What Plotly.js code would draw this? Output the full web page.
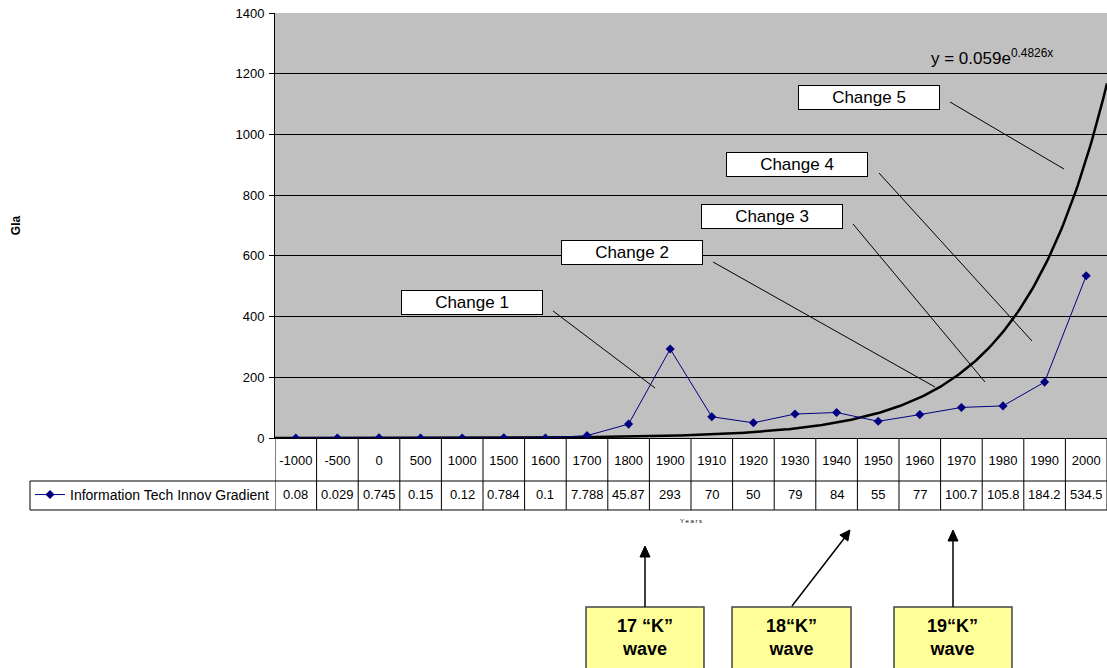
<!DOCTYPE html>
<html>
<head>
<meta charset="utf-8">
<script src="https://cdn.plot.ly/plotly-3.0.1.min.js"></script>
<style>html,body{margin:0;padding:0;background:#fff;}#chart{width:1107px;height:668px;}</style>
</head>
<body>
<div id="chart"></div>
<script>
// ---- data ----
const years = ["-1000","-500","0","500","1000","1500","1600","1700","1800","1900","1910","1920","1930","1940","1950","1960","1970","1980","1990","2000"];
const gradient = [0.08,0.029,0.745,0.15,0.12,0.784,0.1,7.788,45.87,293,70,50,79,84,55,77,100.7,105.8,184.2,534.5];
const seriesName = "Information Tech Innov Gradient";
// trendline shown on the chart: y = 0.059 e^(0.4826x)
const trendA = 0.059;
const trendB = 0.4826;
const changeLabels = ["Change 1","Change 2","Change 3","Change 4","Change 5"];
const waveLabels = ["17 \u201cK\u201d<br>wave","18\u201cK\u201d<br>wave","19\u201cK\u201d<br>wave"];

const FONT = "Liberation Sans, Arial, sans-serif";
const xIdx = years.map((_, i) => i + 1);

const trendX = [], trendY = [];
for (let x = 0.5; x <= 20.5001; x += 0.05) { trendX.push(x); trendY.push(trendA * Math.exp(trendB * x)); }

// table geometry (paper coords)
const yHdrBot = -0.1012, yTblBot = -0.1694, yVal = -0.134;
const legLeft = (30 - 275) / 832;

const shapes = [];
// vertical column lines of data table
for (let k = 0; k <= years.length; k++) {
  shapes.push({type:'line', xref:'x', yref:'paper', x0:k+0.5, x1:k+0.5, y0:yTblBot, y1:0, line:{color:'#000', width:1}});
}
shapes.push({type:'line', xref:'paper', yref:'paper', x0:legLeft, x1:1, y0:yHdrBot, y1:yHdrBot, line:{color:'#000', width:1}});
shapes.push({type:'line', xref:'paper', yref:'paper', x0:legLeft, x1:1, y0:yTblBot, y1:yTblBot, line:{color:'#000', width:1}});
shapes.push({type:'line', xref:'paper', yref:'paper', x0:legLeft, x1:legLeft, y0:yTblBot, y1:yHdrBot, line:{color:'#000', width:1}});

// leader lines for change boxes (data coords)
const leaders = [[7.183,418.5,9.635,164.7],[11.03,579.8,16.366,167.9],[14.394,705.0,17.567,184.5],[15.02,872.9,18.697,319.5],[16.726,1106.8,19.466,886.1]];
leaders.forEach(l => shapes.push({type:'line', xref:'x', yref:'y', x0:l[0], y0:l[1], x1:l[2], y1:l[3], line:{color:'#000', width:1}}));

// yellow wave boxes
const waveBoxes = [[0.3738,0.5156],[0.5493,0.6923],[0.7440,0.8858]];
waveBoxes.forEach(b => shapes.push({type:'rect', xref:'paper', yref:'paper', x0:b[0], x1:b[1], y0:-0.60, y1:-0.3976, fillcolor:'#ffff99', line:{color:'#444', width:1.5}}));

// arrows from wave boxes (shaft + head)
const arrowShafts = [[0.44471,-0.39765,0.44471,-0.2706],[0.62139,-0.39529,0.68630,-0.23059],[0.81490,-0.39765,0.81490,-0.23294]];
arrowShafts.forEach(a => shapes.push({type:'line', xref:'paper', yref:'paper', x0:a[0], y0:a[1], x1:a[2], y1:a[3], line:{color:'#000', width:1.5}}));
const arrowHeads = [
  [[0.44471,-0.25412],[0.43870,-0.28000],[0.45072,-0.28000]],
  [[0.69111,-0.21647],[0.68858,-0.24235],[0.67897,-0.22824]],
  [[0.81490,-0.21647],[0.80889,-0.24235],[0.82091,-0.24235]]
];
arrowHeads.forEach(h => shapes.push({type:'path', xref:'paper', yref:'paper',
  path:'M '+h[0][0]+' '+h[0][1]+' L '+h[1][0]+' '+h[1][1]+' L '+h[2][0]+' '+h[2][1]+' Z', fillcolor:'#000', line:{color:'#000', width:1}}));

const annotations = [];
gradient.forEach((v, i) => annotations.push({xref:'x', yref:'paper', x:i+1, y:yVal, yanchor:'middle', text:String(v), showarrow:false, font:{family:FONT, size:13, color:'#000'}}));

const changePos = [[5.236,446.4],[9.082,612.7],[12.447,731.3],[13.048,900.9],[14.767,1121.6]];
changeLabels.forEach((t, i) => annotations.push({xref:'x', yref:'y', x:changePos[i][0], y:changePos[i][1], text:t, showarrow:false,
  bgcolor:'#fff', bordercolor:'#000', borderwidth:1, borderpad:1, width:138, height:21, font:{family:FONT, size:17, color:'#000'}}));

annotations.push({xref:'x', yref:'y', x:16.22, y:1255, xanchor:'left', yanchor:'middle', text:'y = 0.059e<sup>0.4826x</sup>', showarrow:false, font:{family:FONT, size:17, color:'#000'}});

const waveCenters = [0.4447, 0.6208, 0.8149];
waveLabels.forEach((t, i) => annotations.push({xref:'paper', yref:'paper', x:waveCenters[i], y:-0.470, xanchor:'center', yanchor:'middle', text:'<b>'+t+'</b>', showarrow:false, font:{family:FONT, size:18, color:'#000'}}));

const traces = [
  {x: trendX, y: trendY, type:'scatter', mode:'lines', line:{color:'#000', width:2.5}, showlegend:false, hoverinfo:'skip'},
  {x: xIdx, y: gradient, type:'scatter', mode:'lines+markers', name: seriesName,
   line:{color:'#000080', width:1}, marker:{symbol:'diamond', size:7, color:'#000080'}}
];

const layout = {
  width:1107, height:668,
  margin:{l:275, r:0, t:13, b:230},
  paper_bgcolor:'#fff', plot_bgcolor:'#c0c0c0',
  font:{family:FONT, color:'#000'},
  showlegend:true,
  legend:{x:legLeft, xanchor:'left', y:yVal, yanchor:'middle', bgcolor:'rgba(0,0,0,0)', font:{family:FONT, size:14, color:'#000'}, itemwidth:30},
  xaxis:{range:[0.5,20.5], tickmode:'array', tickvals:xIdx, ticktext:years, ticks:'', showgrid:false, zeroline:false,
    showline:true, linecolor:'#000', linewidth:1, tickfont:{family:FONT, size:13, color:'#000'}, ticklabelstandoff:10, fixedrange:true,
    title:{text:'Y e a r s', font:{family:FONT, size:6, color:'#000'}, standoff:52}},
  yaxis:{range:[0,1400], dtick:200, tick0:0, ticks:'outside', ticklen:5, tickcolor:'#000', showline:true, linecolor:'#000', linewidth:1,
    showgrid:true, gridcolor:'#000', gridwidth:1, zeroline:false, tickfont:{family:FONT, size:13, color:'#000'}, ticklabelstandoff:2, fixedrange:true,
    title:{text:'<b>Gla</b>', font:{family:FONT, size:12, color:'#000'}, standoff:212}},
  shapes: shapes,
  annotations: annotations
};

Plotly.newPlot('chart', traces, layout, {displayModeBar:false, staticPlot:true});
</script>
</body>
</html>
